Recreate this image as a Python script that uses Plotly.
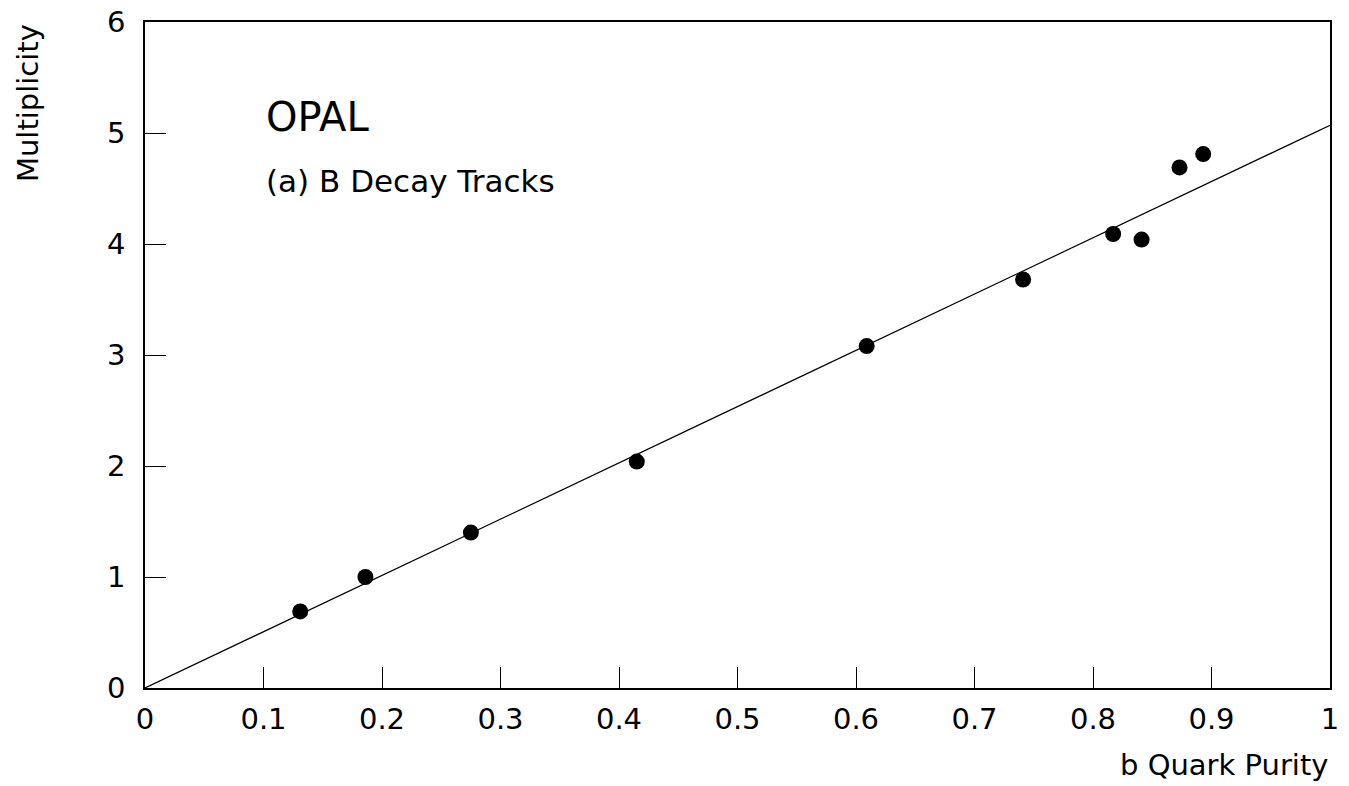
import plotly.graph_objects as go

purity = [0.131, 0.186, 0.275, 0.415, 0.609, 0.741, 0.817, 0.841, 0.873, 0.893]
multiplicity = [0.69, 1.0, 1.40, 2.04, 3.08, 3.68, 4.09, 4.04, 4.69, 4.81]
fit_x = [0.0, 1.0]
fit_y = [0.0, 5.07]

x_ticks = [0, 0.1, 0.2, 0.3, 0.4, 0.5, 0.6, 0.7, 0.8, 0.9, 1]
x_tick_labels = ["0", "0.1", "0.2", "0.3", "0.4", "0.5", "0.6", "0.7", "0.8", "0.9", "1"]
y_ticks = [0, 1, 2, 3, 4, 5, 6]
y_tick_labels = ["0", "1", "2", "3", "4", "5", "6"]

font = "DejaVu Sans"

fig = go.Figure()
fig.add_trace(go.Scatter(x=fit_x, y=fit_y, mode="lines",
                         line=dict(color="black", width=1.2), hoverinfo="skip"))
fig.add_trace(go.Scatter(x=purity, y=multiplicity, mode="markers",
                         marker=dict(color="black", size=16)))

fig.update_layout(
    width=1349, height=786,
    margin=dict(l=145, r=19, t=22, b=98),
    paper_bgcolor="white", plot_bgcolor="white",
    showlegend=False,
    font=dict(family=font, color="black"),
    xaxis=dict(range=[0, 1], tickvals=x_ticks, ticktext=x_tick_labels,
               ticks="inside", ticklen=21, tickwidth=1, tickcolor="black",
               showline=True, linecolor="black", linewidth=1.5, mirror=True,
               showgrid=False, zeroline=False, automargin=False,
               tickfont=dict(size=29, family=font), ticklabelstandoff=4),
    yaxis=dict(range=[0, 6], tickvals=y_ticks, ticktext=y_tick_labels,
               ticks="inside", ticklen=21, tickwidth=1, tickcolor="black",
               showline=True, linecolor="black", linewidth=1.5, mirror=True,
               showgrid=False, zeroline=False, automargin=False,
               tickfont=dict(size=29, family=font), ticklabelstandoff=12),
)
fig.add_annotation(text="OPAL", x=0.1, y=5.14, xref="x", yref="y",
                   xanchor="left", yanchor="middle", showarrow=False,
                   font=dict(size=40, family=font))
fig.add_annotation(text="(a) B Decay Tracks", x=0.1, y=4.57, xref="x", yref="y",
                   xanchor="left", yanchor="middle", showarrow=False,
                   font=dict(size=31, family=font))
fig.add_annotation(text="b Quark Purity", x=1, y=-0.1156, xref="paper", yref="paper",
                   xanchor="right", yanchor="middle", showarrow=False,
                   font=dict(size=29, family=font))
fig.add_annotation(text="Multiplicity", x=-0.0987, y=1.0, xref="paper", yref="paper",
                   xanchor="center", yanchor="top", textangle=-90, showarrow=False,
                   font=dict(size=29, family=font))

fig.write_html("out.html")
